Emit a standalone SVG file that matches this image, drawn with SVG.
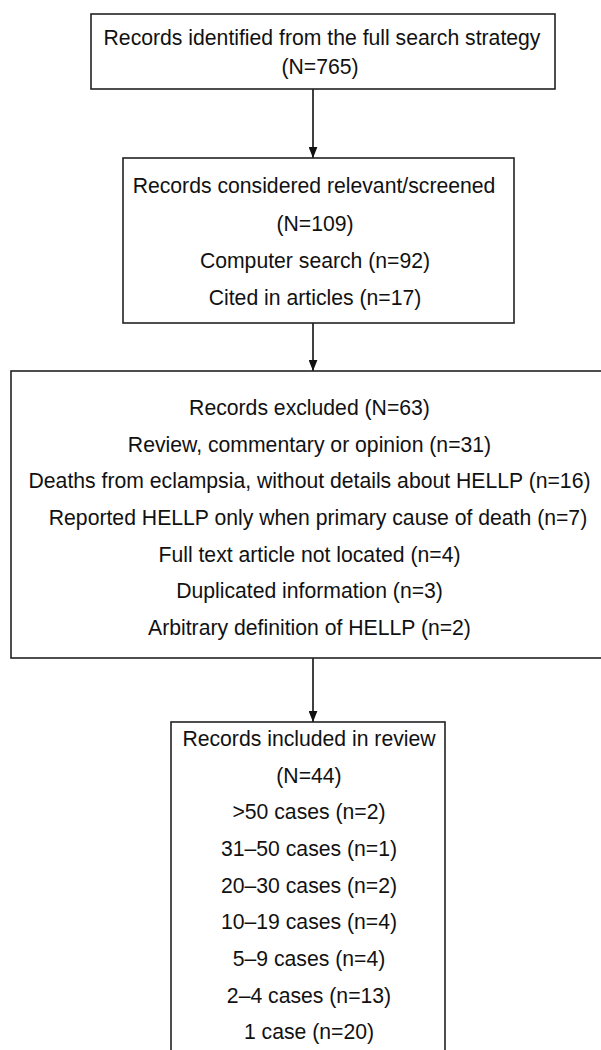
<svg xmlns="http://www.w3.org/2000/svg" width="601" height="1050" viewBox="0 0 601 1050">
<defs>
<style>
.box{fill:#fff;stroke:#222;stroke-width:1.6}
.t{font-family:"Liberation Sans",Arial,sans-serif;font-size:21.2px;fill:#111;text-anchor:middle}
.c{stroke:#111;stroke-width:1.6;fill:none}
</style>
<marker id="ah" viewBox="0 0 10 8" refX="10" refY="4" markerWidth="11" markerHeight="9" markerUnits="userSpaceOnUse" orient="auto">
<path d="M0,0 L10,4 L0,8 Z" fill="#111"/>
</marker>
</defs>
<rect width="601" height="1050" fill="#fff"/>
<g id="connectors">
<line class="c" x1="313" y1="89" x2="313" y2="158" marker-end="url(#ah)"/>
<line class="c" x1="313" y1="323" x2="313" y2="371" marker-end="url(#ah)"/>
<line class="c" x1="313" y1="658" x2="313" y2="722" marker-end="url(#ah)"/>
</g>
<g id="identified">
<rect class="box" x="91" y="14" width="464" height="75"/>
<text class="t" x="322" y="45">Records identified from the full search strategy</text>
<text class="t" x="320" y="74">(N=765)</text>
</g>
<g id="screened">
<rect class="box" x="123" y="158" width="391" height="165"/>
<text class="t" x="314" y="193">Records considered relevant/screened</text>
<text class="t" x="315" y="231">(N=109)</text>
<text class="t" x="315" y="268">Computer search (n=92)</text>
<text class="t" x="315" y="305">Cited in articles (n=17)</text>
</g>
<g id="excluded">
<rect class="box" x="11" y="371" width="605" height="287"/>
<text class="t" x="309.5" y="415">Records excluded (N=63)</text>
<text class="t" x="309.5" y="452">Review, commentary or opinion (n=31)</text>
<text class="t" x="309.5" y="488">Deaths from eclampsia, without details about HELLP (n=16)</text>
<text class="t" x="318" y="525">Reported HELLP only when primary cause of death (n=7)</text>
<text class="t" x="309.5" y="562">Full text article not located (n=4)</text>
<text class="t" x="309.5" y="598">Duplicated information (n=3)</text>
<text class="t" x="309.5" y="635">Arbitrary definition of HELLP (n=2)</text>
</g>
<g id="included">
<rect class="box" x="171" y="722" width="274" height="340"/>
<text class="t" x="309" y="746">Records included in review</text>
<text class="t" x="309" y="783">(N=44)</text>
<text class="t" x="309" y="819">&gt;50 cases (n=2)</text>
<text class="t" x="309" y="856">31–50 cases (n=1)</text>
<text class="t" x="309" y="893">20–30 cases (n=2)</text>
<text class="t" x="309" y="929">10–19 cases (n=4)</text>
<text class="t" x="309" y="966">5–9 cases (n=4)</text>
<text class="t" x="309" y="1003">2–4 cases (n=13)</text>
<text class="t" x="309" y="1039">1 case (n=20)</text>
</g>
</svg>
